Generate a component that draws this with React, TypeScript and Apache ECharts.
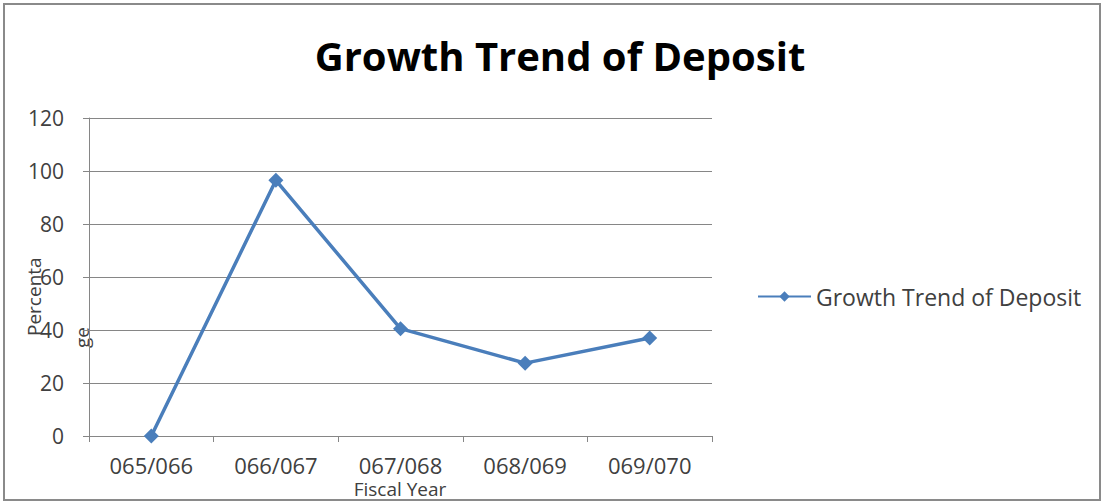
import React, { useEffect, useRef } from "react";
import * as echarts from "echarts";

const categories = ["065/066", "066/067", "067/068", "068/069", "069/070"];
const growthValues = [0, 96.5, 40.5, 27.5, 37];
const seriesName = "Growth Trend of Deposit";
const titleText = "Growth Trend of Deposit";
const xAxisName = "Fiscal Year";
const yAxisNameLines = ["Percenta", "ge"];

const FONT = "'Open Sans', sans-serif";

export default function App() {
  const ref = useRef<HTMLDivElement>(null);
  useEffect(() => {
    if (!ref.current) return;
    const chart = echarts.init(ref.current, undefined, { renderer: "svg" });
    chart.setOption({
      animation: false,
      backgroundColor: "#ffffff",
      title: {
        text: titleText,
        left: 555,
        textAlign: "center",
        top: 30,
        textStyle: { fontFamily: FONT, fontWeight: "bold", fontSize: 40, color: "#000" },
      },
      legend: {
        left: 752,
        top: 280,
        itemWidth: 53,
        itemHeight: 13,
        itemGap: 4,
        textStyle: { fontFamily: FONT, fontSize: 23, color: "#404040" },
        data: [{ name: seriesName }],
      },
      grid: { left: 89, right: 391, top: 118, bottom: 67, outerBoundsMode: "none", containLabel: false },
      xAxis: {
        type: "category",
        data: categories,
        boundaryGap: true,
        axisLine: { lineStyle: { color: "#868686", width: 1 } },
        axisTick: { show: true, length: 6, lineStyle: { color: "#868686" } },
        axisLabel: { fontFamily: FONT, fontSize: 22, lineHeight: 20, color: "#404040", margin: 19 },
      },
      yAxis: {
        type: "value",
        min: 0,
        max: 120,
        interval: 20,
        axisLine: { show: true, lineStyle: { color: "#868686" } },
        axisTick: { show: true, length: 6, lineStyle: { color: "#868686" } },
        splitLine: { lineStyle: { color: "#868686", width: 1 } },
        axisLabel: { fontFamily: FONT, fontSize: 21, color: "#404040", margin: 25 },
      },
      graphic: [
        {
          type: "rect",
          shape: { x: 4, y: 4, width: 1096, height: 496 },
          style: { fill: "none", stroke: "#8a8a8a", lineWidth: 2 },
          silent: true,
        },
        {
          type: "text",
          x: 400,
          y: 489,
          style: {
            text: xAxisName,
            fontFamily: FONT,
            fontSize: 19,
            lineHeight: 17,
            fill: "#404040",
            textAlign: "center",
            textVerticalAlign: "middle",
          },
        },
        {
          type: "text",
          x: 34,
          y: 336,
          rotation: Math.PI / 2,
          style: {
            text: yAxisNameLines[0],
            fontFamily: FONT,
            fontSize: 19,
            fill: "#404040",
            textAlign: "left",
            textVerticalAlign: "middle",
          },
        },
        {
          type: "text",
          x: 82,
          y: 348,
          rotation: Math.PI / 2,
          style: {
            text: yAxisNameLines[1],
            fontFamily: FONT,
            fontSize: 19,
            fill: "#404040",
            textAlign: "left",
            textVerticalAlign: "middle",
          },
        },
      ],
      series: [
        {
          name: seriesName,
          type: "line",
          data: growthValues,
          symbol: "diamond",
          symbolSize: 15,
          lineStyle: { color: "#4a7ebb", width: 3.5 },
          itemStyle: { color: "#4a7ebb" },
        },
      ],
    });
    return () => chart.dispose();
  }, []);
  return (
    <div
      ref={ref}
      style={{ position: "fixed", left: 0, top: 0, width: 1103, height: 503 }}
    />
  );
}
